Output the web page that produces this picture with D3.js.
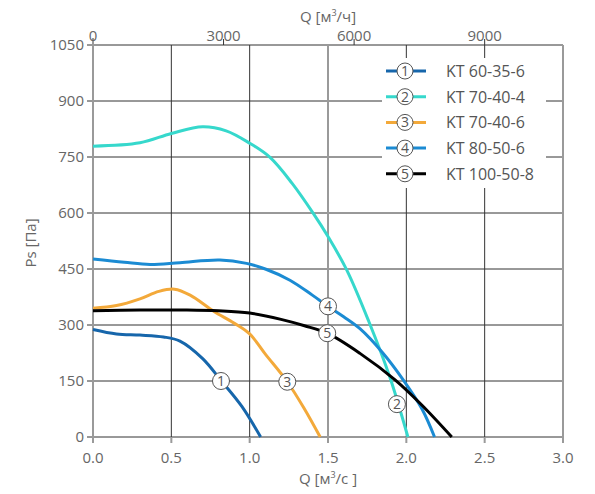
<!DOCTYPE html>
<html>
<head>
<meta charset="utf-8">
<script src="https://cdn.jsdelivr.net/npm/d3@7"></script>
<style>
  body { margin: 0; background: #fff; }
  svg { font-family: "Open Sans", "Noto Sans", sans-serif; }
</style>
</head>
<body>
<svg id="chart" width="595" height="494"></svg>
<script>
// ticks
const qTicks = [0, 0.5, 1.0, 1.5, 2.0, 2.5, 3.0];
const pTicks = [0, 150, 300, 450, 600, 750, 900, 1050];
const qhTicks = [0, 3000, 6000, 9000];

// series: [Q m3/s, Ps Pa]
const names = ["KT 60-35-6", "KT 70-40-4", "KT 70-40-6", "KT 80-50-6", "KT 100-50-8"];
const colors = ["#1666ab", "#36d8cc", "#f3a93a", "#1b8bd3", "#000000"];
const curve1 = [[0,288],[0.15,276],[0.3,273],[0.45,268],[0.555,257],[0.7,210],[0.82,150],[0.95,82],[1.07,0]];
const curve2 = [[0,779],[0.3,788],[0.5,813],[0.7,831],[0.85,820],[1.0,787],[1.13,749],[1.27,680],[1.406,599],[1.5,537],[1.62,447],[1.76,310],[1.895,160],[2.01,0]];
const curve3 = [[0,345],[0.15,352],[0.3,370],[0.42,390],[0.52,396],[0.62,380],[0.77,337],[0.9,305],[1.0,276],[1.1,222],[1.24,148],[1.35,75],[1.45,0]];
const curve4 = [[0,477],[0.2,468],[0.364,462],[0.555,467],[0.81,474],[0.98,465],[1.1,450],[1.257,420],[1.4,380],[1.5,350],[1.6,322],[1.704,290],[1.85,225],[1.98,153],[2.1,75],[2.18,0]];
const curve5 = [[0,338],[0.3,340],[0.6,340],[0.8,338],[1.0,332],[1.2,315],[1.35,298],[1.495,278],[1.704,224],[1.928,153],[2.1,85],[2.29,0]];
const curves = [curve1, curve2, curve3, curve4, curve5];
// label circles on the curves
const markers = [[0.817,150],[1.94,88],[1.24,148],[1.5,350],[1.495,278]];

const margin = {top: 45, right: 32, bottom: 57, left: 93},
      width = 595 - margin.left - margin.right,
      height = 494 - margin.top - margin.bottom;

const x = d3.scaleLinear().domain([0, 3]).range([0, width]);
const xh = d3.scaleLinear().domain([0, 3 * 3600]).range([0, width]);
const y = d3.scaleLinear().domain([0, 1050]).range([height, 0]);

const svg = d3.select("#chart");
const g = svg.append("g")
    .attr("transform", "translate(" + margin.left + "," + margin.top + ")");

const dark = "#333", gray = "#9a9a9a", txt = "#666";

// horizontal grid
g.selectAll(".hgrid").data(pTicks).join("line")
    .attr("x1", -6).attr("x2", width)
    .attr("y1", d => y(d)).attr("y2", d => y(d))
    .attr("stroke", dark).attr("stroke-width", 1);

// vertical grid (1.5 and 3.0 drawn lighter)
g.selectAll(".vgrid").data(qTicks).join("line")
    .attr("x1", d => x(d)).attr("x2", d => x(d))
    .attr("y1", 0).attr("y2", height)
    .attr("stroke", d => (d === 1.5 || d === 3.0 || d === 0) ? gray : dark)
    .attr("stroke-width", d => (d === 1.5 || d === 3.0 || d === 0) ? 2 : 1);

// bottom ticks
g.selectAll(".btick").data(qTicks).join("line")
    .attr("x1", d => x(d)).attr("x2", d => x(d))
    .attr("y1", height).attr("y2", height + 6)
    .attr("stroke", gray).attr("stroke-width", 2);
g.append("line")
    .attr("x1", 0).attr("x2", 0).attr("y1", -7).attr("y2", 0)
    .attr("stroke", gray).attr("stroke-width", 2);

// top ticks (m3/h)
g.selectAll(".ttick").data(qhTicks.slice(1)).join("line")
    .attr("x1", d => xh(d)).attr("x2", d => xh(d))
    .attr("y1", -6).attr("y2", 0)
    .attr("stroke", dark).attr("stroke-width", 1);

// tick labels
g.selectAll(".blab").data(qTicks).join("text")
    .attr("x", d => x(d)).attr("y", height + 26)
    .attr("text-anchor", "middle").attr("fill", txt).attr("font-size", 15)
    .text(d => d3.format(".1f")(d));
g.selectAll(".tlab").data(qhTicks).join("text")
    .attr("x", d => xh(d)).attr("y", -4)
    .attr("text-anchor", "middle").attr("fill", txt).attr("font-size", 15)
    .text(d => d);
g.selectAll(".ylab").data(pTicks).join("text")
    .attr("x", -9).attr("y", d => y(d) + 5)
    .attr("text-anchor", "end").attr("fill", txt).attr("font-size", 15)
    .text(d => d);

// axis titles
svg.append("text")
    .attr("x", margin.left + width / 2).attr("y", 22)
    .attr("text-anchor", "middle").attr("fill", txt).attr("font-size", 15)
    .html("Q [м<tspan font-size='9' dy='-6'>3</tspan><tspan dy='6'>/ч]</tspan>");
svg.append("text")
    .attr("x", margin.left + width / 2).attr("y", 484)
    .attr("text-anchor", "middle").attr("fill", txt).attr("font-size", 15)
    .html("Q [м<tspan font-size='9' dy='-6'>3</tspan><tspan dy='6'>/с ]</tspan>");
svg.append("text")
    .attr("transform", "translate(36,243) rotate(-90)")
    .attr("text-anchor", "middle").attr("fill", txt).attr("font-size", 15)
    .text("Ps [Па]");

// curves
const line = d3.line()
    .x(d => x(d[0])).y(d => y(d[1]))
    .curve(d3.curveCatmullRom.alpha(0.5));
g.selectAll(".curve").data(curves).join("path")
    .attr("d", line)
    .attr("fill", "none")
    .attr("stroke", (d, i) => colors[i])
    .attr("stroke-width", 3);

// markers on curves
const mk = g.selectAll(".mk").data(markers).join("g")
    .attr("transform", d => "translate(" + x(d[0]) + "," + y(d[1]) + ")");
mk.append("circle").attr("r", 8.5)
    .attr("fill", "#fff").attr("stroke", "#555").attr("stroke-width", 1);
mk.append("text")
    .attr("text-anchor", "middle").attr("dy", 5)
    .attr("font-size", 14).attr("fill", "#555")
    .text((d, i) => i + 1);

// legend
const lg = svg.append("g").attr("transform", "translate(382,58)");
lg.append("rect").attr("width", 164).attr("height", 130).attr("fill", "#fff");
const item = lg.selectAll(".item").data(names).join("g")
    .attr("transform", (d, i) => "translate(0," + (13 + i * 25.7) + ")");
item.append("line")
    .attr("x1", 4).attr("x2", 44)
    .attr("stroke", (d, i) => colors[i]).attr("stroke-width", 3);
item.append("circle").attr("cx", 23).attr("r", 8)
    .attr("fill", "#fff").attr("stroke", "#555").attr("stroke-width", 1);
item.append("text").attr("x", 23).attr("dy", 5)
    .attr("text-anchor", "middle").attr("font-size", 14).attr("fill", "#555")
    .text((d, i) => i + 1);
item.append("text").attr("x", 64).attr("dy", 6)
    .attr("font-size", 16).attr("fill", "#555")
    .text(d => d);
</script>
</body>
</html>
